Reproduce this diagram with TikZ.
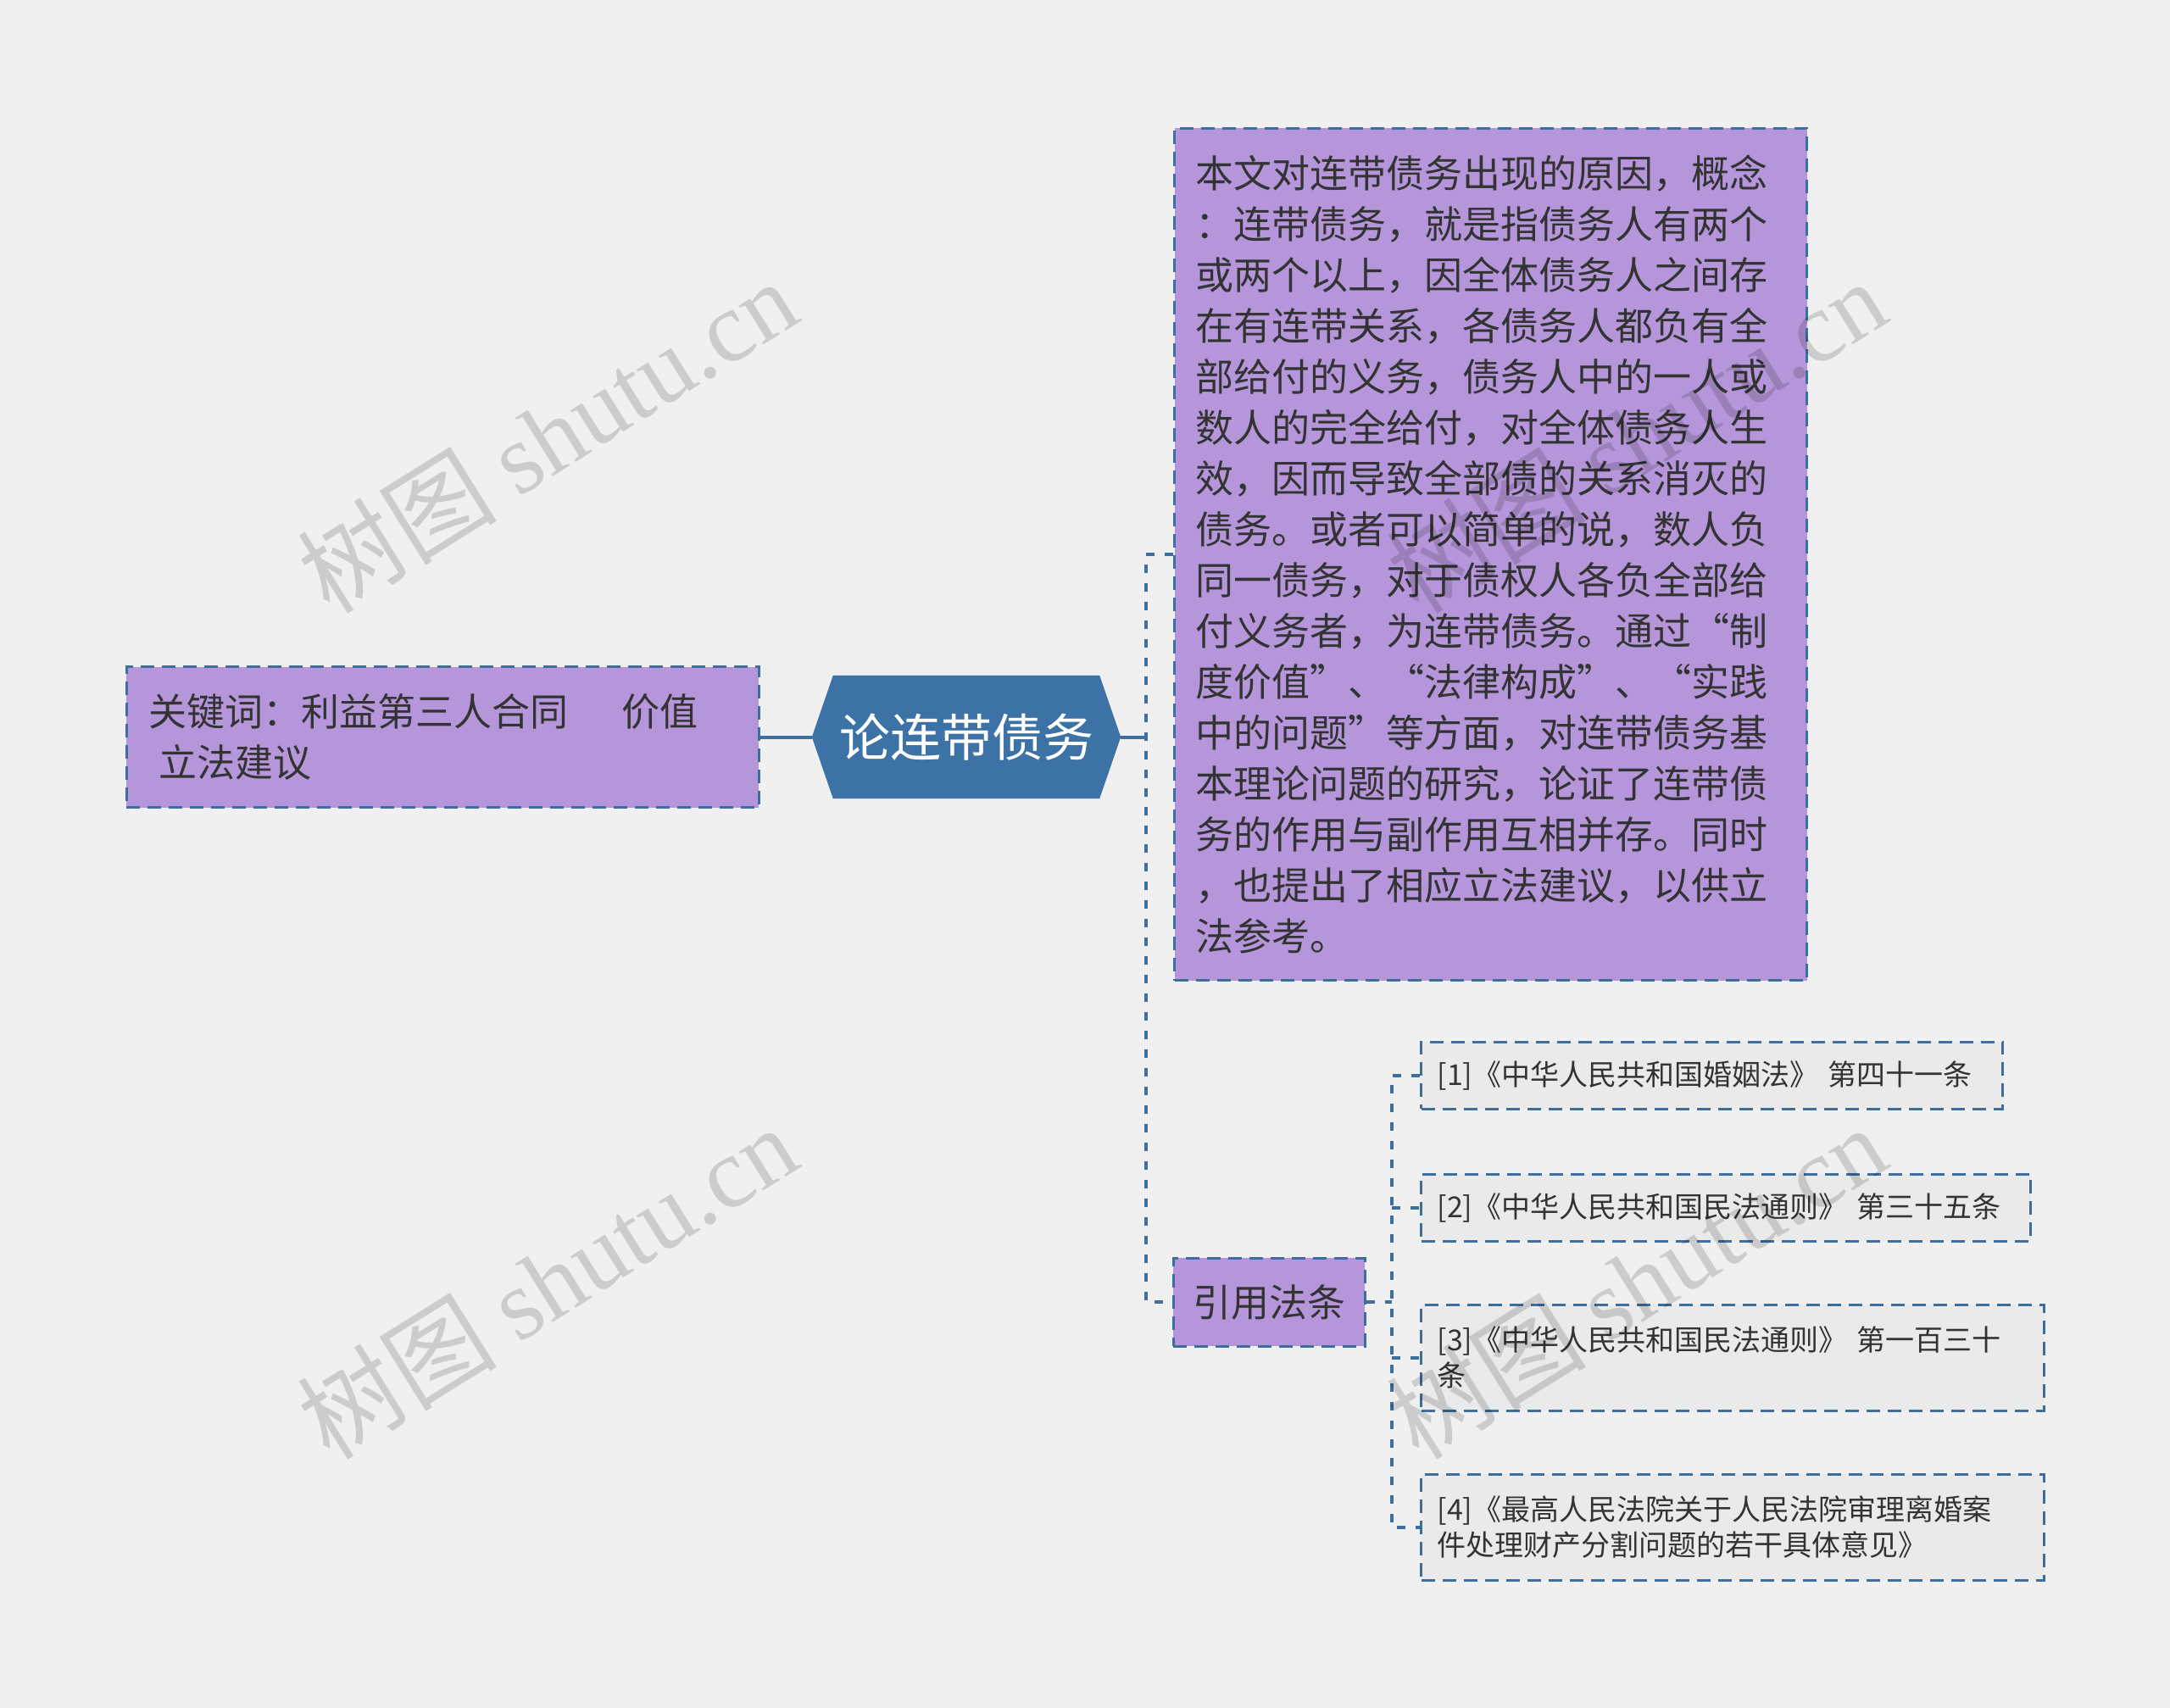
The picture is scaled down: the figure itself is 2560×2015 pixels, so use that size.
\documentclass[tikz,border=0pt]{standalone}
\usepackage{fontspec}
\setmainfont{Noto Sans CJK SC}
\newfontfamily\wmlatin{Liberation Serif}
\usetikzlibrary{backgrounds}
\definecolor{bgc}{HTML}{F0F0F0}
\definecolor{purp}{HTML}{B696DA}
\definecolor{rootc}{HTML}{3C72A5}
\definecolor{bordc}{HTML}{3E6E9E}
\definecolor{refc}{HTML}{EAEAEA}
\definecolor{txt}{HTML}{333333}
\begin{document}
\begin{tikzpicture}[x=1pt,y=-1pt,
  pbox/.style={draw=bordc, line width=3pt, dash pattern=on 16pt off 9pt, fill=purp, text=txt, inner ysep=0pt, align=left},
  rbox/.style={draw=bordc, line width=3pt, dash pattern=on 16pt off 9pt, fill=refc, text=txt, inner ysep=0pt, inner xsep=19pt, align=left, anchor=west, font=\fontsize{34pt}{42pt}\selectfont},
  conn/.style={draw=bordc, line width=4pt},
  trunkline/.style={draw=bordc, line width=4pt, dash pattern=on 10pt off 12pt},
  wm/.style={text=black, text opacity=0.15, rotate=32, inner sep=0pt}]

\node[pbox, minimum width=746pt, minimum height=166pt, text width=694pt, inner xsep=26pt,
  font=\fontsize{45pt}{60pt}\selectfont] (kw) at (522,869.5)
  {关键词：利益第三人合同\hspace{64pt}价值\\\hspace*{12pt}立法建议};

\node[minimum width=364pt, minimum height=145pt, inner sep=0pt, text=white,
  font=\fontsize{60pt}{72pt}\selectfont] (root) at (1140,869.5) {论连带债务};

\node[pbox, anchor=north west, minimum width=746pt, minimum height=1005pt, text width=696pt, inner xsep=25pt,
  font=\fontsize{45pt}{60pt}\selectfont] (abs) at (1384,150)
  {本文对连带债务出现的原因，概念\\
   ：连带债务，就是指债务人有两个\\
   或两个以上，因全体债务人之间存\\
   在有连带关系，各债务人都负有全\\
   部给付的义务，债务人中的一人或\\
   数人的完全给付，对全体债务人生\\
   效，因而导致全部债的关系消灭的\\
   债务。或者可以简单的说，数人负\\
   同一债务，对于债权人各负全部给\\
   付义务者，为连带债务。通过“制\\
   度价值”、“法律构成”、“实践\\
   中的问题”等方面，对连带债务基\\
   本理论问题的研究，论证了连带债\\
   务的作用与副作用互相并存。同时\\
   ，也提出了相应立法建议，以供立\\
   法参考。};

\node[pbox, minimum width=226pt, minimum height=104pt, inner xsep=0pt, align=center,
  font=\fontsize{45pt}{54pt}\selectfont] (cite) at (1497,1536) {引用法条};

\node[rbox, minimum width=686pt, minimum height=79pt, text width=648pt] (r1) at (1675,1268.5)
  {[1]《中华人民共和国婚姻法》~第四十一条};
\node[rbox, minimum width=719pt, minimum height=79pt, text width=681pt] (r2) at (1675,1424.5)
  {[2]《中华人民共和国民法通则》~第三十五条};
\node[rbox, minimum width=735pt, minimum height=125pt, text width=697pt] (r3) at (1675,1601.5)
  {[3]《中华人民共和国民法通则》~第一百三十\\条};
\node[rbox, minimum width=735pt, minimum height=125pt, text width=697pt] (r4) at (1675,1801.5)
  {[4]《最高人民法院关于人民法院审理离婚案\\件处理财产分割问题的若干具体意见》};

\coordinate (tj) at (1352,869.5);
\coordinate (sj) at (1642,1536);

\begin{pgfonlayer}{background}
  \fill[bgc] (0,0) rectangle (2560,2015);
  \fill[rootc] (root.west) -- ([xshift=25pt]root.north west) -- ([xshift=-25pt]root.north east)
     -- (root.east) -- ([xshift=-25pt]root.south east) -- ([xshift=25pt]root.south west) -- cycle;
  \draw[conn] (kw.east) -- (root.west);
  \draw[conn] (root.east) -- (tj);
  \draw[trunkline] (abs.west) -- (abs.west -| tj) -- (cite.west -| tj) -- (cite.west);
  \draw[trunkline] (cite.east) -- (sj);
  \draw[trunkline] (r1.west) -- (r1.west -| sj) -- (r4.west -| sj) -- (r4.west);
  \draw[trunkline] (r2.west -| sj) -- (r2.west);
  \draw[trunkline] (r3.west -| sj) -- (r3.west);
\end{pgfonlayer}

\node[wm, font=\fontsize{118pt}{120pt}\selectfont] (wm1) at (645,514) {树图 {\wmlatin shutu.cn}};
\node[wm, font=\fontsize{118pt}{120pt}\selectfont] (wm2) at (645,1512) {树图 {\wmlatin shutu.cn}};
\node[wm, font=\fontsize{118pt}{120pt}\selectfont] (wm3) at (1930,1512) {树图 {\wmlatin shutu.cn}};
\node[wm, font=\fontsize{118pt}{120pt}\selectfont] (wm4) at (1930,514) {树图 {\wmlatin shutu.cn}};
\end{tikzpicture}
\end{document}
